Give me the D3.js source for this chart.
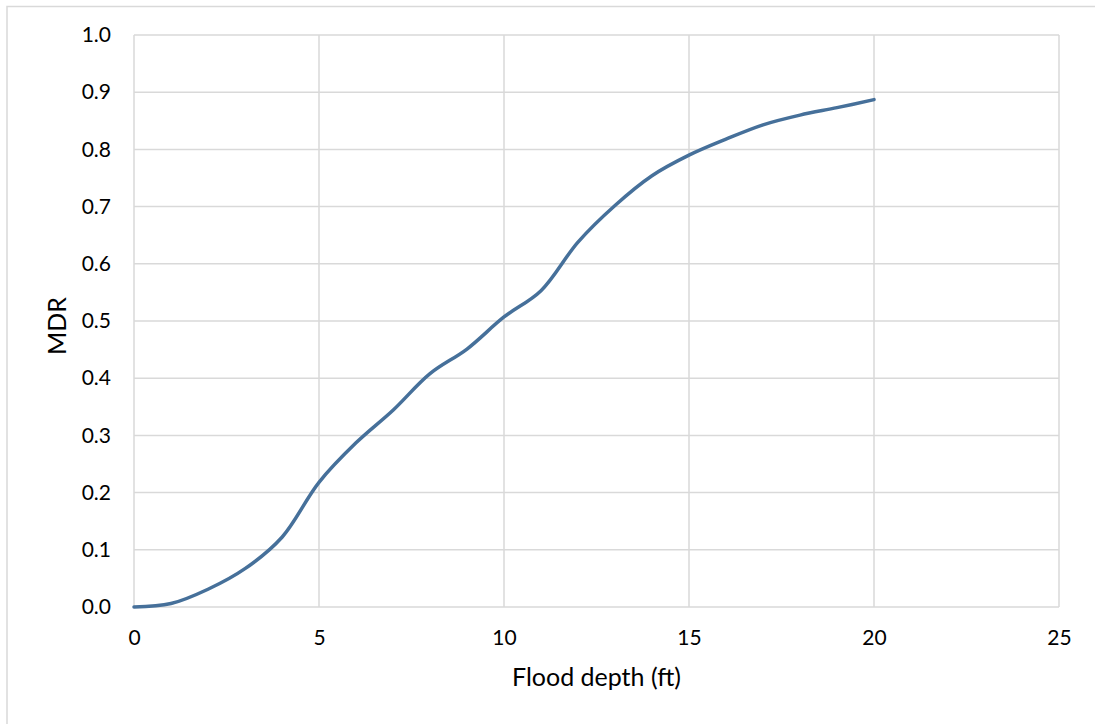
<!DOCTYPE html>
<html>
<head>
<meta charset="utf-8">
<script src="https://cdn.jsdelivr.net/npm/d3@7"></script>
<style>
  body { margin: 0; background: #fff; }
  text { font-family: "Lato", "Open Sans", sans-serif; fill: #000; }
</style>
</head>
<body>
<div id="chart"></div>
<script>
// flood depth (ft) vs mean damage ratio
const depths = [0, 1, 2, 3, 4, 5, 6, 7, 8, 9, 10, 11, 12, 13, 14, 15, 16, 17, 18, 19, 20]
const mdr = [0, 0.006, 0.031, 0.067, 0.122, 0.218, 0.287, 0.344, 0.408, 0.451, 0.507,
  0.553, 0.638, 0.702, 0.754, 0.790, 0.818, 0.843, 0.860, 0.873, 0.887]
const xTicks = [0, 5, 10, 15, 20, 25]
const yTicks = [0, 0.1, 0.2, 0.3, 0.4, 0.5, 0.6, 0.7, 0.8, 0.9, 1.0]

const width = 1095
const height = 724
const margin = { top: 35, right: 36, bottom: 117, left: 134 }

const svg = d3.select("#chart")
  .append("svg")
  .attr("width", width)
  .attr("height", height)

// outer chart border (runs off the right and bottom edges)
svg.append("rect")
  .attr("x", 7)
  .attr("y", 6.5)
  .attr("width", width)
  .attr("height", height)
  .attr("fill", "none")
  .attr("stroke", "#d9d9d9")
  .attr("stroke-width", 1.5)

const xScale = d3.scaleLinear()
  .domain([0, 25])
  .range([margin.left, width - margin.right])

const yScale = d3.scaleLinear()
  .domain([0, 1])
  .range([height - margin.bottom, margin.top])

// gridlines
svg.append("g")
  .selectAll("line")
  .data(yTicks)
  .join("line")
  .attr("x1", xScale(0))
  .attr("x2", xScale(25))
  .attr("y1", d => yScale(d))
  .attr("y2", d => yScale(d))
  .attr("stroke", "#d9d9d9")
  .attr("stroke-width", 1.5)

svg.append("g")
  .selectAll("line")
  .data(xTicks)
  .join("line")
  .attr("x1", d => xScale(d))
  .attr("x2", d => xScale(d))
  .attr("y1", yScale(0))
  .attr("y2", yScale(1))
  .attr("stroke", "#d9d9d9")
  .attr("stroke-width", 1.5)

// axes (labels only, Excel style)
const xAxis = svg.append("g")
  .attr("transform", "translate(0," + yScale(0) + ")")
  .call(d3.axisBottom(xScale).tickValues(xTicks).tickSize(0).tickPadding(23))
xAxis.select(".domain").remove()
xAxis.selectAll("text").style("font-size", "21px").attr("fill", "#000")

const yAxis = svg.append("g")
  .attr("transform", "translate(" + xScale(0) + ",0)")
  .call(d3.axisLeft(yScale).tickValues(yTicks).tickFormat(d3.format(".1f")).tickSize(0).tickPadding(23))
yAxis.select(".domain").remove()
yAxis.selectAll("text").style("font-size", "21px").attr("fill", "#000")

// line
const line = d3.line()
  .x((d, i) => xScale(depths[i]))
  .y(d => yScale(d))
  .curve(d3.curveCatmullRom.alpha(0.5))

svg.append("path")
  .datum(mdr)
  .attr("d", line)
  .attr("fill", "none")
  .attr("stroke", "#46709a")
  .attr("stroke-width", 3.5)
  .attr("stroke-linecap", "round")

// axis titles
svg.append("text")
  .attr("x", (xScale(0) + xScale(25)) / 2)
  .attr("y", 686)
  .attr("text-anchor", "middle")
  .style("font-size", "25px")
  .text("Flood depth (ft)")

svg.append("text")
  .attr("transform", "translate(66," + (yScale(0.5) + 5) + ") rotate(-90)")
  .attr("text-anchor", "middle")
  .style("font-size", "25px")
  .text("MDR")
</script>
</body>
</html>
